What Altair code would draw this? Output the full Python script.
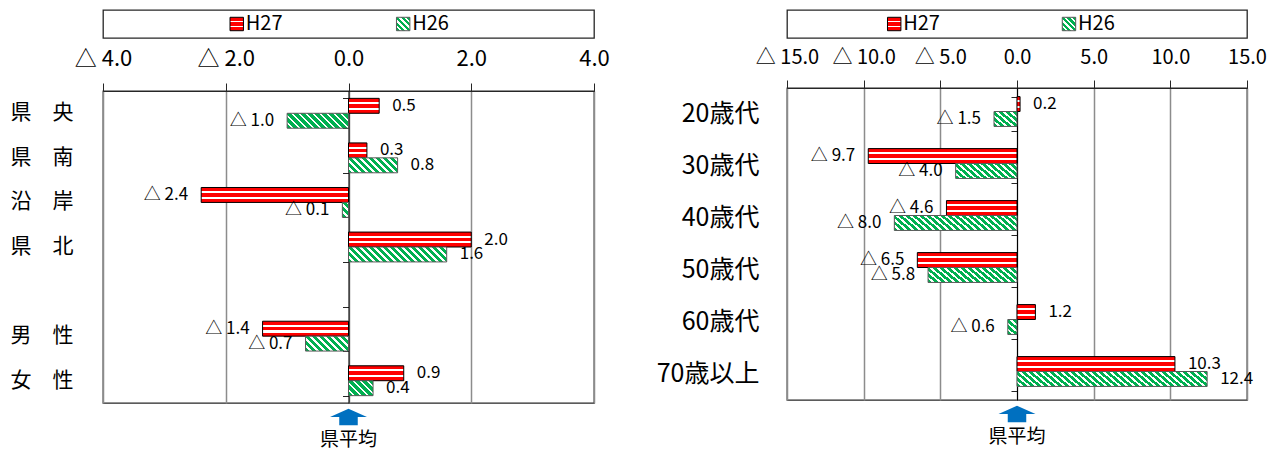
import altair as alt

FONT = "Noto Sans CJK JP"
series = ["H27", "H26"]

left_categories = ["県　央", "県　南", "沿　岸", "県　北", "", "男　性", "女　性"]
left_h27 = [0.5, 0.3, -2.4, 2.0, None, -1.4, 0.9]
left_h26 = [-1.0, 0.8, -0.1, 1.6, None, -0.7, 0.4]
left_ticks = [-4, -2, 0, 2, 4]

right_categories = ["20歳代", "30歳代", "40歳代", "50歳代", "60歳代", "70歳以上"]
right_h27 = [0.2, -9.7, -4.6, -6.5, 1.2, 10.3]
right_h26 = [-1.5, -4.0, -8.0, -5.8, -0.6, 12.4]
right_ticks = [-15, -10, -5, 0, 5, 10, 15]

mean_label = "県平均"

PLOT_H = 312
LEG_H = 28
PAD_IN = 0.33
RED = "#FF0000"
GREEN = "#00B050"
WHITE = "#FFFFFF"
BLUE = "#0070C0"
FRAME = "#262626"
GRID = "#8C8C8C"

LABEL_EXPR = "datum.value < 0 ? '\u25b3 ' + format(-datum.value, '.1f') : format(datum.value, '.1f')"
TEXT_EXPR = "datum.v < 0 ? '\u25b3 ' + format(-datum.v, '.1f') : format(datum.v, '.1f')"


def red_stripes():
    bands = [(0, 0.24, RED), (0.24, 0.38, WHITE), (0.38, 0.62, RED),
             (0.62, 0.76, WHITE), (0.76, 1, RED)]
    stops = []
    for a, b, c in bands:
        stops += [{"offset": a, "color": c}, {"offset": b, "color": c}]
    return {"gradient": "linear", "x1": 0, "y1": 0, "x2": 0, "y2": 1, "stops": stops}


def green_hatch(w, h, period=7.0, frac=0.6):
    w = max(w, 0.5)
    n = (w + h) / period
    a = w * (w + h) / (w * w + h * h)
    stops = []
    k = 0
    while k < n:
        s0 = k / n
        s1 = min((k + frac) / n, 1)
        s2 = min((k + 1) / n, 1)
        stops += [{"offset": s0, "color": GREEN}, {"offset": s1, "color": GREEN}]
        if s1 < 1:
            stops += [{"offset": s1, "color": WHITE}, {"offset": s2, "color": WHITE}]
        k += 1
    return {"gradient": "linear", "x1": 0, "y1": 1, "x2": a, "y2": 1 - a * h / w, "stops": stops}


def legend_chart(width, lpad, lalign):
    rows = [
        {"series": "H27", "grad": red_stripes(), "stroke": "#000000"},
        {"series": "H26", "grad": green_hatch(14, 14, period=6.0), "stroke": "#595959"},
    ]
    base = alt.Chart(alt.Data(values=rows))
    xenc = alt.X("series:N", scale=alt.Scale(type="point", domain=series, padding=lpad, align=lalign), axis=None)
    sw = base.mark_point(shape="square", filled=True, size=180, strokeWidth=1, opacity=1, xOffset=-24).encode(
        x=xenc, y=alt.value(LEG_H / 2),
        fill=alt.Fill("grad:N", scale=None), stroke=alt.Stroke("stroke:N", scale=None))
    tx = base.mark_text(align="left", baseline="middle", dx=-15, fontSize=20, font=FONT, color="#000").encode(
        x=xenc, y=alt.value(LEG_H / 2), text="series:N")
    return alt.layer(sw, tx).properties(width=width, height=LEG_H)


def panel(cats, h27, h26, ticks, width, cat_font, tick_font, cat_pad, lpad, lalign):
    span = ticks[-1] - ticks[0]
    bar_h = PLOT_H / len(cats) * (1 - PAD_IN) / 2
    rows = []
    for c, a, b in zip(cats, h27, h26):
        if a is None:
            continue
        rows.append({"cat": c, "series": "H27", "v": a, "grad": red_stripes(), "stroke": "#000000"})
        rows.append({"cat": c, "series": "H26", "v": b,
                     "grad": green_hatch(abs(b) * width / span, bar_h), "stroke": "#595959"})
    base = alt.Chart(alt.Data(values=rows))
    yscale = alt.Scale(domain=cats, paddingInner=PAD_IN, paddingOuter=PAD_IN / 2)
    yoff = alt.YOffset("series:N", scale=alt.Scale(domain=series))
    xenc = alt.X("v:Q", scale=alt.Scale(domain=[ticks[0], ticks[-1]], nice=False, zero=False),
                 axis=alt.Axis(orient="top", values=ticks, labelExpr=LABEL_EXPR, title=None,
                               grid=True, gridColor=GRID, gridWidth=1.5, tickSize=8,
                               tickColor=FRAME, domainColor=FRAME, labelPadding=13,
                               labelOverlap=False, labelFlush=False,
                               labelFontSize=tick_font, labelFont=FONT, labelColor="#000"))
    y_lab = alt.Y("cat:N", scale=yscale, sort=None,
                  axis=alt.Axis(title=None, domain=False, ticks=False, grid=False,
                                labelFontSize=cat_font, labelFont=FONT, labelColor="#000",
                                labelPadding=cat_pad))
    y_none = alt.Y("cat:N", scale=yscale, sort=None, axis=None)
    y_zero = alt.Y("cat:N", scale=yscale, sort=None,
                   axis=alt.Axis(title=None, orient="left", offset=-width / 2, labels=False,
                                 grid=False, domainColor="#000", domainWidth=1,
                                 tickColor=FRAME, tickSize=6, tickBand="extent"))

    bars = base.mark_bar(strokeWidth=1).encode(
        y=y_lab, yOffset=yoff, x=xenc,
        fill=alt.Fill("grad:N", scale=None), stroke=alt.Stroke("stroke:N", scale=None))
    pos_t = base.transform_filter("datum.v >= 0").transform_calculate(label=TEXT_EXPR).mark_text(
        align="left", baseline="middle", dx=13, fontSize=17, font=FONT, color="#000").encode(
        y=y_none, yOffset=yoff, x=xenc, text="label:N")
    neg_t = base.transform_filter("datum.v < 0").transform_calculate(label=TEXT_EXPR).mark_text(
        align="right", baseline="middle", dx=-13, fontSize=17, font=FONT, color="#000").encode(
        y=y_none, yOffset=yoff, x=xenc, text="label:N")
    zero = base.mark_bar(opacity=0).encode(y=y_zero, yOffset=yoff, x=xenc)

    ann = alt.Chart(alt.Data(values=[{"t": mean_label}]))
    arrow = ann.mark_point(shape="M0,-0.45 L1,0 L0.5,0 L0.5,0.45 L-0.5,0.45 L-0.5,0 L-1,0 Z",
                           filled=True, size=1369, fill=BLUE, strokeWidth=0, opacity=1).encode(
        x=alt.datum(0), y=alt.value(PLOT_H + 14))
    mean_t = ann.mark_text(fontSize=19, font=FONT, color="#000", baseline="middle").encode(
        x=alt.datum(0), y=alt.value(PLOT_H + 37), text="t:N")

    main = alt.layer(bars, pos_t, neg_t, zero, arrow, mean_t).resolve_axis(y="independent").properties(
        width=width, height=PLOT_H)
    return alt.vconcat(legend_chart(width, lpad, lalign), main, spacing=7)


left = panel(left_categories, left_h27, left_h26, left_ticks, 491, 21, 22, 30, 0.975, 0.486)
right = panel(right_categories, right_h27, right_h26, right_ticks, 460, 25, 20, 28, 0.816, 0.46)

chart = alt.hconcat(left, right, spacing=45).properties(
    padding={"left": 1, "top": 1, "right": 0, "bottom": 0}
).configure_view(stroke=FRAME, strokeWidth=1.3).configure_text(font=FONT)

chart.save("out.html", embed_options={"renderer": "svg", "actions": False})
